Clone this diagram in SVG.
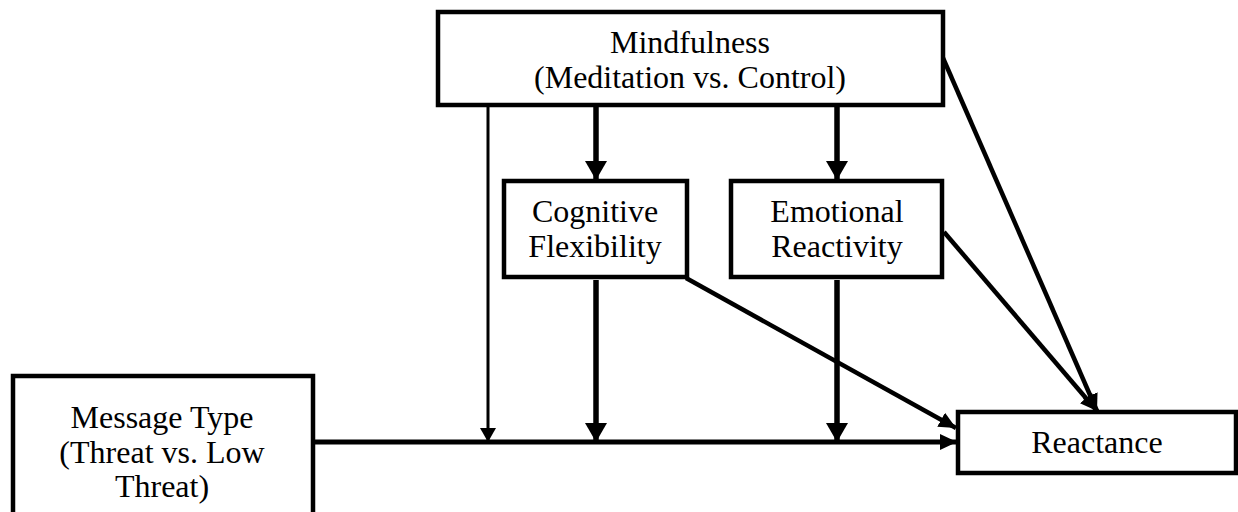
<svg xmlns="http://www.w3.org/2000/svg" width="1238" height="512" viewBox="0 0 1238 512">
<style>
.box{fill:#fff;stroke:#000;stroke-width:4.5}
.t{font-family:"Liberation Serif","Times New Roman",serif;font-size:32px;fill:#000;text-anchor:middle}
.c{stroke:#000;fill:none}
</style>
<defs>
<marker id="big" markerUnits="userSpaceOnUse" viewBox="0 0 19 22" refX="19" refY="11" markerWidth="19" markerHeight="22" orient="auto"><path d="M0,0L19,11L0,22z" fill="#000"/></marker>
<marker id="mid" markerUnits="userSpaceOnUse" viewBox="0 0 17 16" refX="17" refY="8" markerWidth="17" markerHeight="16" orient="auto"><path d="M0,0L17,8L0,16z" fill="#000"/></marker>
<marker id="small" markerUnits="userSpaceOnUse" viewBox="0 0 14 16" refX="14" refY="8" markerWidth="14" markerHeight="16" orient="auto"><path d="M0,0L14,8L0,16z" fill="#000"/></marker>
</defs>
<g id="connectors">
<line class="c" x1="313" y1="442" x2="957" y2="442" stroke-width="5" marker-end="url(#mid)"/>
<line class="c" x1="488" y1="107" x2="488" y2="442" stroke-width="3" marker-end="url(#small)"/>
<line class="c" x1="596" y1="107" x2="596" y2="180" stroke-width="5.5" marker-end="url(#big)"/>
<line class="c" x1="837" y1="107" x2="837" y2="180" stroke-width="5.5" marker-end="url(#big)"/>
<line class="c" x1="596" y1="280" x2="596" y2="442" stroke-width="5.5" marker-end="url(#big)"/>
<line class="c" x1="837" y1="280" x2="837" y2="442" stroke-width="5.5" marker-end="url(#big)"/>
<line class="c" x1="686" y1="278" x2="956" y2="428" stroke-width="4.5" marker-end="url(#mid)"/>
<line class="c" x1="944" y1="232" x2="1097" y2="411" stroke-width="4.5" marker-end="url(#mid)"/>
<line class="c" x1="943" y1="58" x2="1097" y2="411" stroke-width="4.5" marker-end="url(#mid)"/>
</g>
<g id="mindfulness">
<rect class="box" x="438" y="12" width="505" height="93"/>
<text class="t" x="690" y="53">Mindfulness</text>
<text class="t" x="690" y="88">(Meditation vs. Control)</text>
</g>
<g id="cognitive">
<rect class="box" x="504" y="181" width="183" height="96"/>
<text class="t" x="595" y="222">Cognitive</text>
<text class="t" x="595" y="257">Flexibility</text>
</g>
<g id="emotional">
<rect class="box" x="731" y="181" width="211" height="96"/>
<text class="t" x="837" y="222">Emotional</text>
<text class="t" x="837" y="257">Reactivity</text>
</g>
<g id="message">
<rect class="box" x="13" y="376" width="300" height="140"/>
<text class="t" x="162" y="428">Message Type</text>
<text class="t" x="162" y="463">(Threat vs. Low</text>
<text class="t" x="162" y="497">Threat)</text>
</g>
<g id="reactance">
<rect class="box" x="958" y="412" width="278" height="61"/>
<text class="t" x="1097" y="453">Reactance</text>
</g>
</svg>
